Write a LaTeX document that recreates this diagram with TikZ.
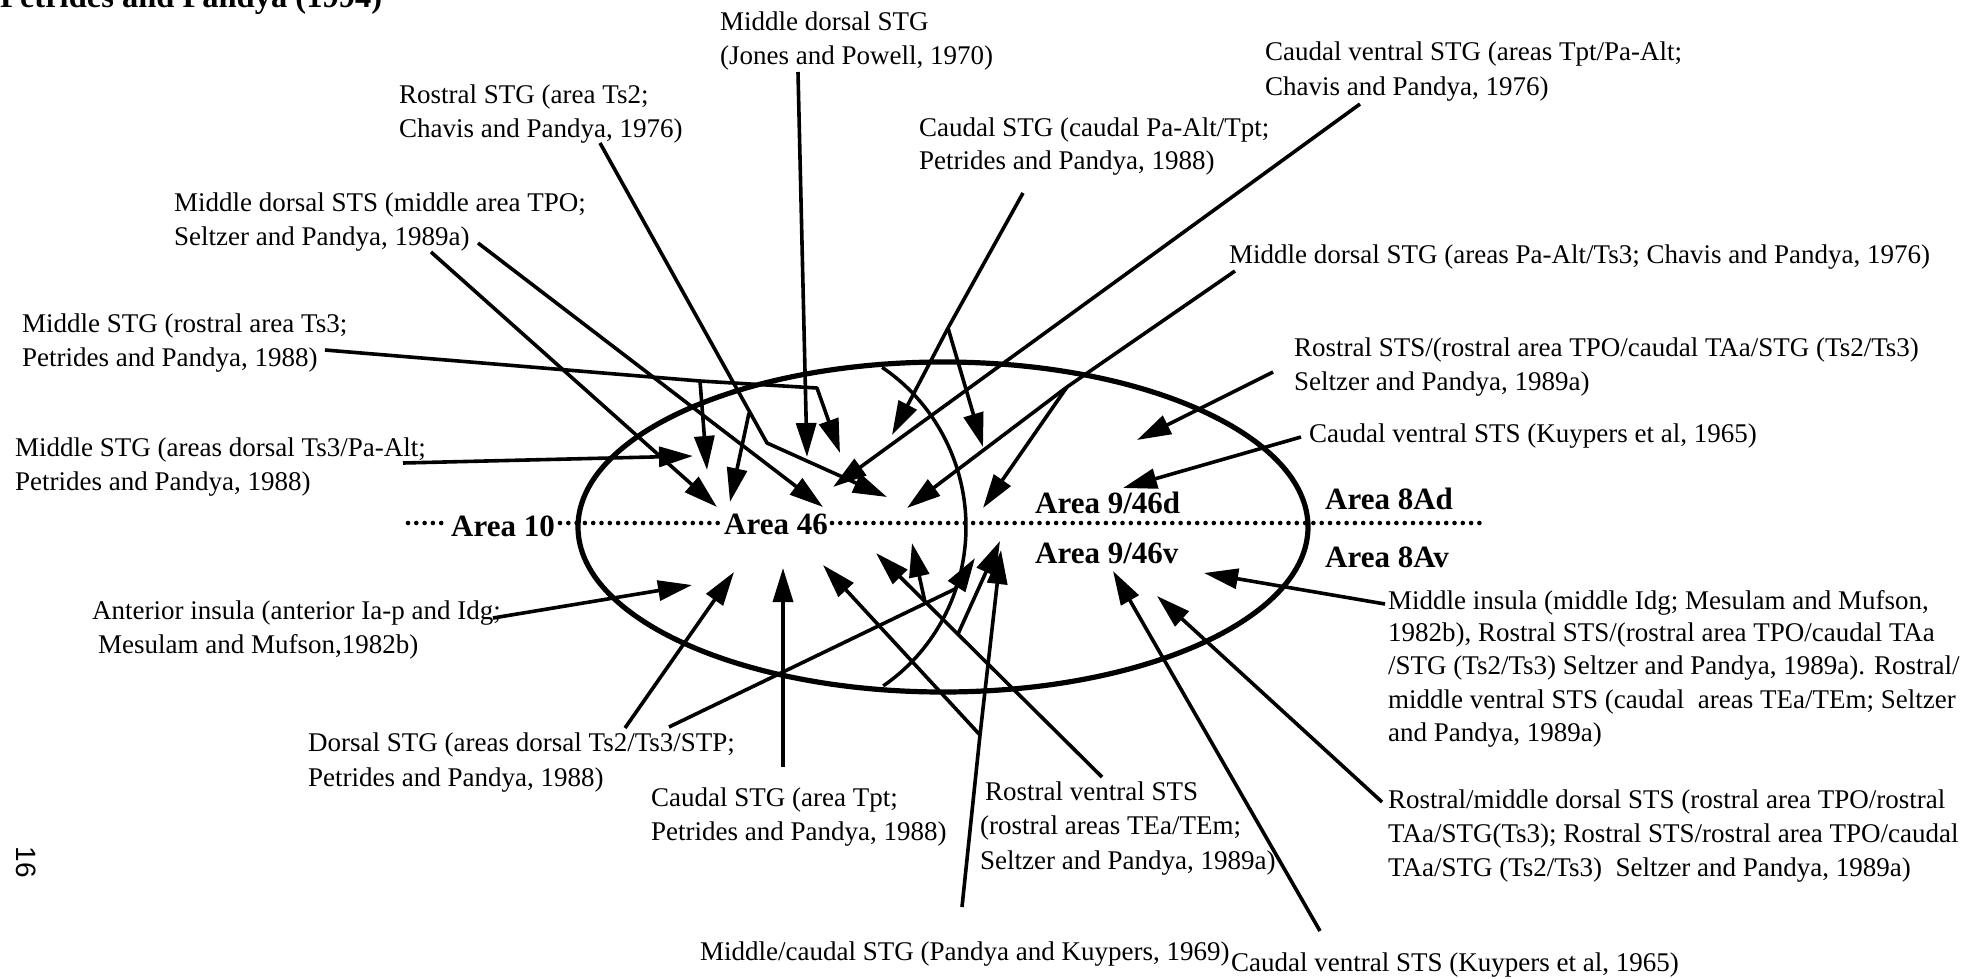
\documentclass[tikz,border=0pt]{standalone}
\usepackage{fontspec}
\setmainfont{Liberation Serif}
\newfontfamily\foliofont{Liberation Sans}
\usetikzlibrary{arrows.meta}
\begin{document}
\begin{tikzpicture}[x=1pt,y=-1pt,
  lbl/.style={anchor=base west,inner sep=0pt,font=\fontsize{27}{32}\selectfont},
  arealbl/.style={anchor=base west,inner sep=0pt,font=\fontsize{31}{36}\selectfont\bfseries},
  conn/.style={line width=3.6pt,line join=round,-{Triangle[length=34pt,width=20pt]}},
  trunk/.style={line width=3.6pt,line join=round},
  regionline/.style={line width=5.2pt},
  innerarc/.style={line width=3.5pt},
  dotrule/.style={line width=4.6pt,line cap=round,dash pattern=on 0pt off 8.3pt}]

\useasboundingbox (0,0) rectangle (1982,978);
\clip (0,0) rectangle (1982,978);

% ---------- prefrontal regions ----------
\draw[regionline] (943,527) ellipse [x radius=365pt, y radius=165pt];
\draw[innerarc] (780,527) ++(56.7:186pt and 191pt)
  arc[start angle=56.7, end angle=-56.3, x radius=186pt, y radius=191pt];

\node[arealbl] (a10)  at (451,536)  {Area 10};
\node[arealbl] (a46)  at (724,534)  {Area 46};
\node[arealbl] (a9d)  at (1035,513) {Area 9/46d};
\node[arealbl] (a9v)  at (1035,563) {Area 9/46v};
\node[arealbl] (a8d)  at (1325,509) {Area 8Ad};
\node[arealbl] (a8v)  at (1325,567) {Area 8Av};

% dorsal/ventral boundary
\coordinate (d0) at (408,523);
\coordinate (d1) at (446,523);
\coordinate (d2) at (560,523);
\coordinate (d3) at (720,523);
\coordinate (d4) at (832,523);
\coordinate (d5) at (1485,523);
\draw[dotrule] (d0) -- (d1);
\draw[dotrule] (d2) -- (d3);
\draw[dotrule] (d4) -- (d5);

% ---------- source labels ----------
\node[anchor=base west,inner sep=0pt,font=\fontsize{32.5}{36}\selectfont\bfseries] (title) at (0,7) {Petrides and Pandya (1994)};

\node[lbl] (jp1) at (720,30)  {Middle dorsal STG};
\node[lbl] (jp2) at (720,64)  {(Jones and Powell, 1970)};

\node[lbl] (rs1) at (399,103) {Rostral STG (area Ts2;};
\node[lbl] (rs2) at (399,137) {Chavis and Pandya, 1976)};

\node[lbl] (cs1) at (919,136) {Caudal STG (caudal Pa-Alt/Tpt;};
\node[lbl] (cs2) at (919,169) {Petrides and Pandya, 1988)};

\node[lbl] (cv1) at (1265,60) {Caudal ventral STG (areas Tpt/Pa-Alt;};
\node[lbl] (cv2) at (1265,95) {Chavis and Pandya, 1976)};

\node[lbl] (md1) at (174,211) {Middle dorsal STS (middle area TPO;};
\node[lbl] (md2) at (174,245) {Seltzer and Pandya, 1989a)};

\node[lbl] (mp1) at (1229,263) {Middle dorsal STG (areas Pa-Alt/Ts3; Chavis and Pandya, 1976)};

\node[lbl] (mr1) at (22,332)  {Middle STG (rostral area Ts3;};
\node[lbl] (mr2) at (22,366)  {Petrides and Pandya, 1988)};

\node[lbl] (rt1) at (1294,356) {Rostral STS/(rostral area TPO/caudal TAa/STG (Ts2/Ts3)};
\node[lbl] (rt2) at (1294,390) {Seltzer and Pandya, 1989a)};

\node[lbl] (mt1) at (15,456)  {Middle STG (areas dorsal Ts3/Pa-Alt;};
\node[lbl] (mt2) at (15,490)  {Petrides and Pandya, 1988)};

\node[lbl] (ck1) at (1309,442) {Caudal ventral STS (Kuypers et al, 1965)};

\node[lbl] (ai1) at (92,619)  {Anterior insula (anterior Ia-p and Idg;};
\node[lbl] (ai2) at (98,653)  {Mesulam and Mufson,1982b)};

\node[lbl] (mi1) at (1388,609) {Middle insula (middle Idg; Mesulam and Mufson,};
\node[lbl] (mi2) at (1388,641) {1982b), Rostral STS/(rostral area TPO/caudal TAa};
\node[lbl] (mi3) at (1388,674) {/STG (Ts2/Ts3) Seltzer and Pandya, 1989a). Rostral/};
\node[lbl] (mi4) at (1388,708) {middle ventral STS (caudal\ \ areas TEa/TEm; Seltzer};
\node[lbl] (mi5) at (1388,741) {and Pandya, 1989a)};

\node[lbl] (ds1) at (308,751) {Dorsal STG (areas dorsal Ts2/Ts3/STP;};
\node[lbl] (ds2) at (308,786) {Petrides and Pandya, 1988)};

\node[lbl] (ct1) at (651,806) {Caudal STG (area Tpt;};
\node[lbl] (ct2) at (651,840) {Petrides and Pandya, 1988)};

\node[lbl] (rv1) at (985,800) {Rostral ventral STS};
\node[lbl] (rv2) at (980,834) {(rostral areas TEa/TEm;};
\node[lbl] (rv3) at (980,869) {Seltzer and Pandya, 1989a)};

\node[lbl] (rm1) at (1388,808) {Rostral/middle dorsal STS (rostral area TPO/rostral};
\node[lbl] (rm2) at (1388,842) {TAa/STG(Ts3); Rostral STS/rostral area TPO/caudal};
\node[lbl] (rm3) at (1388,876) {TAa/STG (Ts2/Ts3)\ \ Seltzer and Pandya, 1989a)};

\node[lbl] (mc1) at (700,960) {Middle/caudal STG (Pandya and Kuypers, 1969)};
\node[lbl] (cb1) at (1231,971) {Caudal ventral STS (Kuypers et al, 1965)};

\node[inner sep=0pt,rotate=-90,font=\fontsize{28}{30}\foliofont] (folio) at (26,862) {16};

% ---------- projection arrows ----------
% Middle dorsal STG (Jones and Powell)
\coordinate (jpS) at (798,72);   \coordinate (jpT) at (807,457);
\draw[conn] (jpS) -- (jpT);

% Rostral STG
\coordinate (rsS) at (600,143);  \coordinate (rsJ) at (749,413);
\coordinate (rsB) at (767,443);  \coordinate (rsT) at (887,497);
\coordinate (rsT2) at (730,502);
\draw[conn] (rsS) -- (rsB) -- (rsT);
\draw[conn] (rsJ) -- (rsT2);

% Middle dorsal STS
\coordinate (mdS1) at (431,252); \coordinate (mdT1) at (717,507);
\coordinate (mdS2) at (478,243); \coordinate (mdT2) at (823,507);
\draw[conn] (mdS1) -- (mdT1);
\draw[conn] (mdS2) -- (mdT2);

% Middle STG (rostral area Ts3)
\coordinate (mrS) at (325,350);  \coordinate (mrJ) at (700,381);
\coordinate (mrB) at (817,388);  \coordinate (mrT) at (840,453);
\coordinate (mrT2) at (707,470);
\draw[conn] (mrS) -- (mrJ) -- (mrB) -- (mrT);
\draw[conn] (mrJ) -- (mrT2);

% Middle STG (areas dorsal Ts3/Pa-Alt)
\coordinate (mtS) at (403,463);  \coordinate (mtT) at (693,456);
\draw[conn] (mtS) -- (mtT);

% Caudal STG (caudal Pa-Alt/Tpt)
\coordinate (csS) at (1023,193); \coordinate (csJ) at (948,328);
\coordinate (csT1) at (892,435); \coordinate (csT2) at (983,447);
\draw[trunk] (csS) -- (csJ);
\draw[conn] (csJ) -- (csT1);
\draw[conn] (csJ) -- (csT2);

% Caudal ventral STG
\coordinate (cvS) at (1360,104); \coordinate (cvT) at (833,487);
\draw[conn] (cvS) -- (cvT);

% Middle dorsal STG (areas Pa-Alt/Ts3)
\coordinate (mpS) at (1235,271); \coordinate (mpJ) at (1067,387);
\coordinate (mpT1) at (907,508); \coordinate (mpT2) at (983,508);
\draw[conn] (mpS) -- (mpJ) -- (mpT1);
\draw[conn] (mpJ) -- (mpT2);

% Rostral STS (rostral area TPO)
\coordinate (rtS) at (1273,372); \coordinate (rtT) at (1137,440);
\draw[conn] (rtS) -- (rtT);

% Caudal ventral STS (upper)
\coordinate (ckS) at (1301,437); \coordinate (ckT) at (1123,488);
\draw[conn] (ckS) -- (ckT);

% Anterior insula
\coordinate (aiS) at (493,618);  \coordinate (aiT) at (692,585);
\draw[conn] (aiS) -- (aiT);

% Middle insula
\coordinate (miS) at (1385,604); \coordinate (miT) at (1204,573);
\draw[conn] (miS) -- (miT);

% Dorsal STG
\coordinate (dsS1) at (625,728); \coordinate (dsT1) at (734,572);
\coordinate (dsS2) at (669,727); \coordinate (dsB2) at (955,589);
\coordinate (dsT2) at (975,558);
\draw[conn] (dsS1) -- (dsT1);
\draw[conn] (dsS2) -- (dsB2) -- (dsT2);

% Caudal STG (area Tpt)
\coordinate (ctS) at (783,767);  \coordinate (ctT) at (783,568);
\draw[conn] (ctS) -- (ctT);

% Middle/caudal STG
\coordinate (mcS) at (962,907);  \coordinate (mcJ) at (980,735);
\coordinate (mcT1) at (1001,550); \coordinate (mcT2) at (823,565);
\draw[conn] (mcS) -- (mcJ) -- (mcT1);
\draw[conn] (mcJ) -- (mcT2);

% Rostral ventral STS
\coordinate (rvS) at (1102,777); \coordinate (rvT1) at (876,553);
\coordinate (rvJ1) at (925,602); \coordinate (rvT2) at (912,543);
\coordinate (rvJ2) at (958,634); \coordinate (rvT3) at (1000,541);
\draw[conn] (rvS) -- (rvT1);
\draw[conn] (rvJ1) -- (rvT2);
\draw[conn] (rvJ2) -- (rvT3);

% Caudal ventral STS (lower)
\coordinate (cbS) at (1320,931); \coordinate (cbT) at (1113,571);
\draw[conn] (cbS) -- (cbT);

% Rostral/middle dorsal STS
\coordinate (rmS) at (1382,802); \coordinate (rmT) at (1157,596);
\draw[conn] (rmS) -- (rmT);

\end{tikzpicture}
\end{document}
